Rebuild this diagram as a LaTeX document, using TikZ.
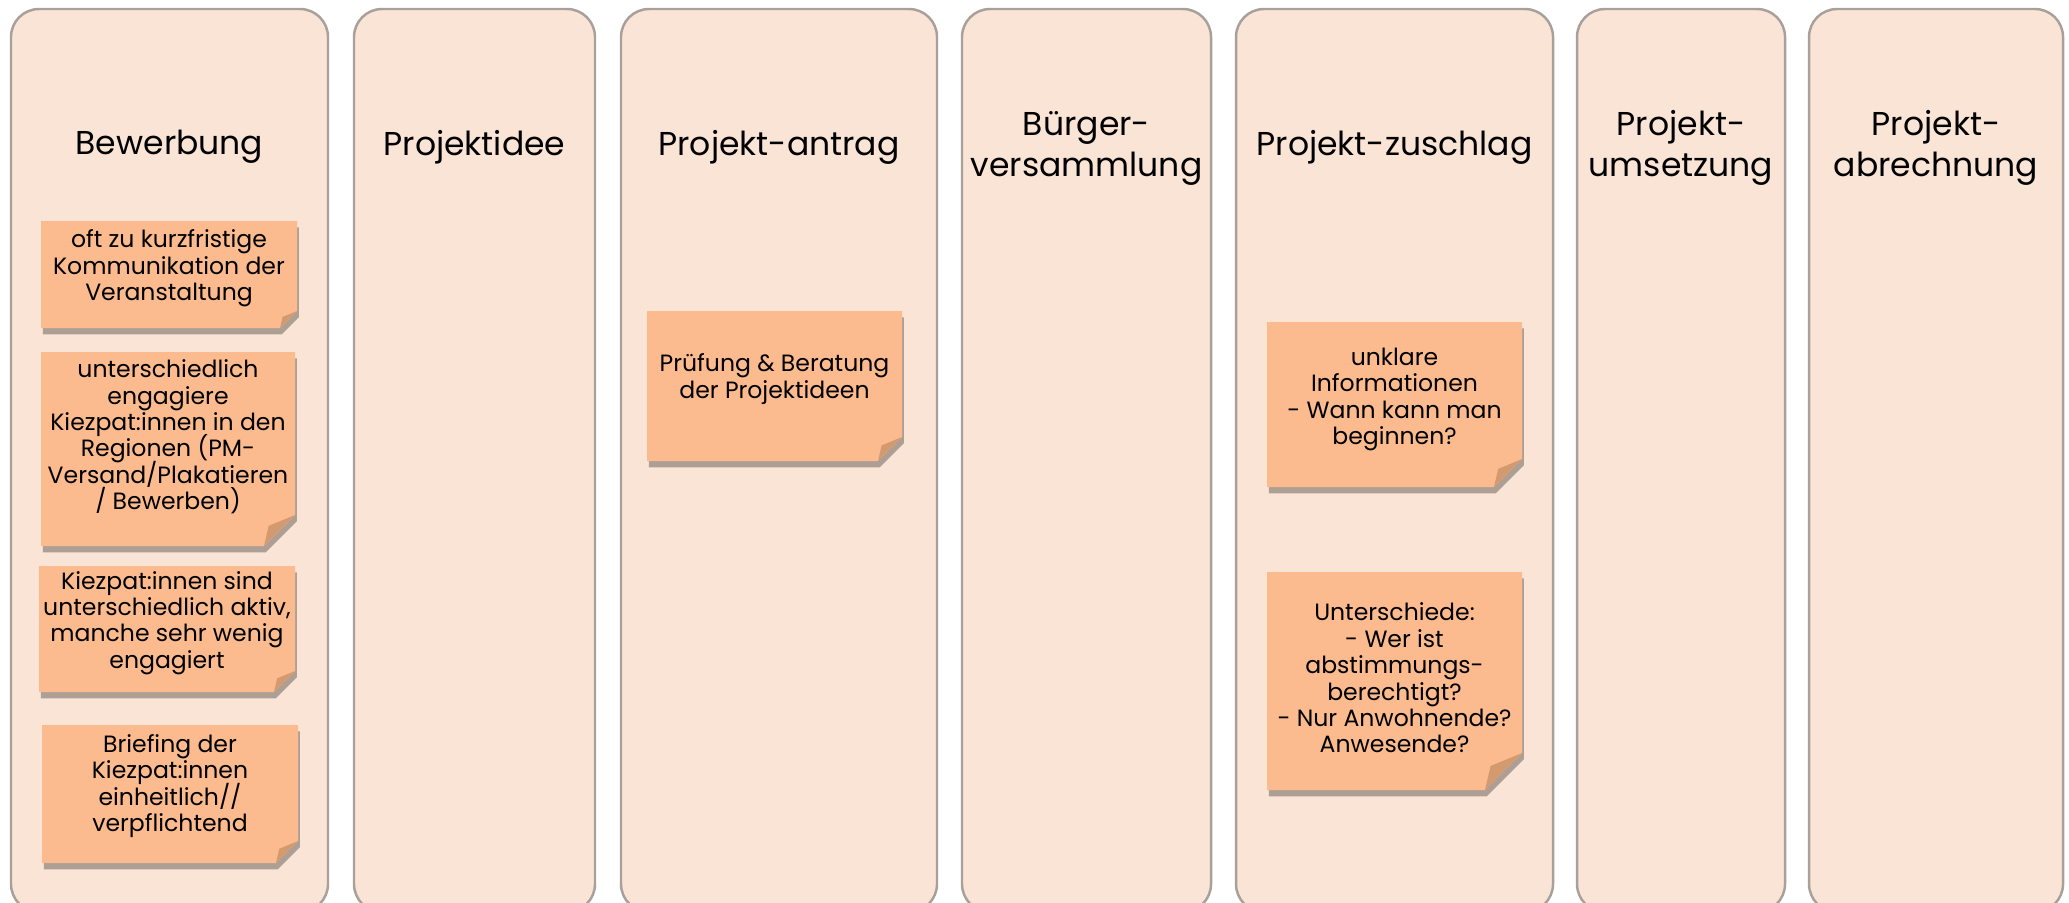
\documentclass[tikz,border=0pt]{standalone}
\usepackage{fontspec}
\setmainfont{Poppins}
\usetikzlibrary{positioning, shadows}
\pgfdeclarelayer{lanes}
\pgfdeclarelayer{paper}
\pgfsetlayers{lanes,paper,main}
\definecolor{laneFill}{RGB}{250,228,214}
\definecolor{laneLine}{RGB}{168,160,154}
\definecolor{noteFill}{RGB}{251,187,142}
\definecolor{noteFold}{RGB}{211,154,112}
\newcommand{\tightlines}{\lineskiplimit=-5pt\relax}
\tikzset{x=0.1mm, y=-0.1mm,
  lane/.style={draw=laneLine, line width=0.7pt, fill=laneFill, rounded corners=2.8mm, inner sep=0pt},
  phase/.style={align=center, font=\fontsize{9.4}{11.7}\selectfont\tightlines},
  sticky/.style={align=center, inner sep=0pt, font=\fontsize{6.7}{7.5}\selectfont\tightlines},
  paper/.style={fill=noteFill, drop shadow={shadow xshift=0.5pt, shadow yshift=-1.8pt, fill=black, opacity=0.3}}
}
% name, corners, fold size, text shift, text
\newcommand{\postit}[8]{%
  \begin{pgfonlayer}{paper}
    \path[paper] (#2,#3) -- (#4,#3) -- (#4,#5-#6) -- (#4-#6,#5) -- (#2,#5) -- cycle;
    \fill[noteFold] (#4,#5-#6) -- (#4-0.85*#6,#5-0.65*#6) -- (#4-#6,#5) -- cycle;
  \end{pgfonlayer}
  \node[sticky] (#1) at ({(#2+#4)/2},{(#3+#5)/2+#7}) {#8};
}

\begin{document}
\begin{tikzpicture}
\clip (0,0) rectangle (2069,902);

\begin{pgfonlayer}{lanes}
\foreach \nm/\l/\r in {bew/11/328, idee/354/595, antrag/621/937, vers/962/1211,
    zuschlag/1236/1553, umsetz/1577/1785, abrech/1809/2063}
  \node[lane, minimum width={(\r-\l)*0.1mm}, minimum height=90.3mm] (\nm) at ({(\l+\r)/2},460.5) {};
\end{pgfonlayer}

\node[phase] (bew-t) at (bew |- 0,147) {Bewerbung};
\node[phase] (idee-t) at (idee |- 0,147) {Projektidee};
\node[phase] (antrag-t) at (antrag |- 0,147) {Projekt-antrag};
\node[phase] (vers-t) at (vers |- 0,148) {Bürger-\\versammlung};
\node[phase] (zuschlag-t) at (zuschlag |- 0,147) {Projekt-zuschlag};
\node[phase] (umsetz-t) at (umsetz |- 0,148) {Projekt-\\umsetzung};
\node[phase] (abrech-t) at (abrech |- 0,148) {Projekt-\\abrechnung};

\postit{kurz}{41}{221}{297}{328}{17}{-6}{oft zu kurzfristige\\Kommunikation der\\Veranstaltung}
\postit{engag}{41}{352}{295}{546}{31}{-12}{unterschiedlich\\engagiere\\Kiezpat:innen in den\\Regionen (PM-\\Versand/Plakatieren\\/ Bewerben)}
\postit{aktiv}{39}{566}{295}{692}{21}{-6}{Kiezpat:innen sind\\unterschiedlich aktiv,\\manche sehr wenig\\engagiert}
\postit{brief}{42}{725}{298}{863}{22}{-8}{Briefing der\\Kiezpat:innen\\einheitlich//\\verpflichtend}
\postit{pruef}{647}{311}{902}{461}{24}{-7}{Prüfung \& Beratung\\der Projektideen}
\postit{unklar}{1267}{322}{1522}{487}{28}{-5}{unklare\\Informationen\\- Wann kann man\\beginnen?}
\postit{unters}{1267}{572}{1522}{790}{37}{-3}{Unterschiede:\\- Wer ist\\abstimmungs-\\berechtigt?\\- Nur Anwohnende?\\Anwesende?}
\end{tikzpicture}
\end{document}
